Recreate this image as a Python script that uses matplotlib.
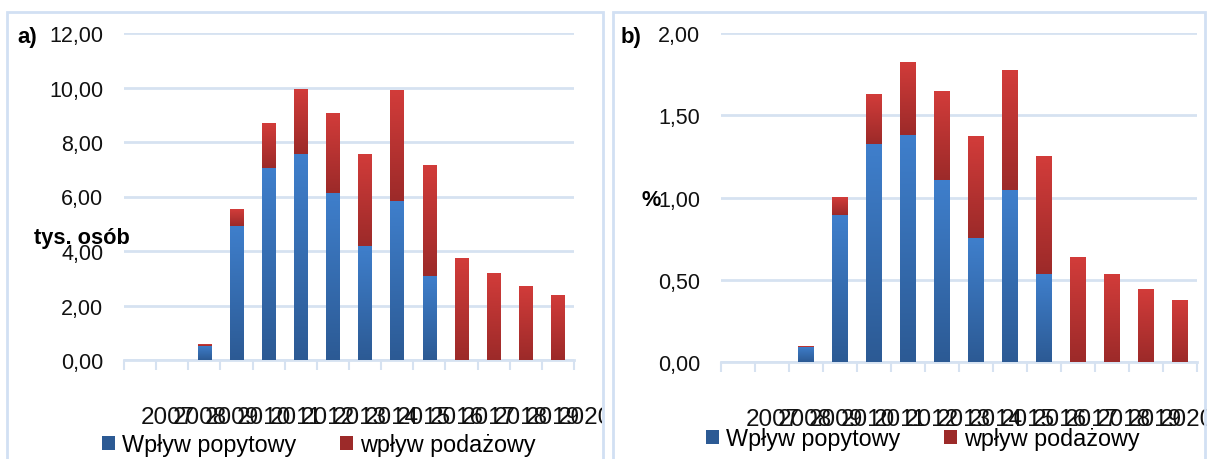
import numpy as np
import matplotlib
matplotlib.use("Agg")
import matplotlib.pyplot as plt
from matplotlib.colors import LinearSegmentedColormap
from matplotlib.patches import Rectangle, Patch
from matplotlib.transforms import Bbox, TransformedBbox
from matplotlib.ticker import FuncFormatter, MultipleLocator

# ---------------- data ----------------
years = ["2007", "2008", "2009", "2010", "2011", "2012", "2013",
         "2014", "2015", "2016", "2017", "2018", "2019", "2020"]
a_demand = [0, 0, 0.53, 4.93, 7.06, 7.57, 6.14, 4.19, 5.85, 3.09, 0, 0, 0, 0]
a_supply = [0, 0, 0.06, 0.62, 1.62, 2.39, 2.94, 3.38, 4.04, 4.08, 3.75, 3.20, 2.72, 2.39]
b_demand = [0, 0.003, 0.093, 0.893, 1.324, 1.378, 1.105, 0.753, 1.044, 0.534, 0, 0, 0, 0]
b_supply = [0, 0, 0.004, 0.109, 0.303, 0.444, 0.541, 0.619, 0.729, 0.717, 0.638, 0.534, 0.443, 0.376]
legend_labels = ["Wpływ popytowy", "wpływ podażowy"]

W, H = 1207, 460
fig = plt.figure(figsize=(W / 100, H / 100), dpi=100)

BLUE_TOP, BLUE_BOT = "#3f7fcc", "#2c5a94"
RED_TOP, RED_BOT = "#d23c3a", "#9c2a29"
GRID = "#d6e2f1"
BORDER = "#d2e0f3"
FONT = ["Liberation Sans", "DejaVu Sans"]
NARROW = ["Liberation Sans Narrow", "Liberation Sans", "DejaVu Sans"]


def px_axes(x0, x1, ytop, ybot):
    return fig.add_axes([x0 / W, (H - ybot) / H, (x1 - x0) / W, (ybot - ytop) / H])


def gradient_fill(ax, bars, top, bot):
    cmap = LinearSegmentedColormap.from_list("g", [bot, top])
    grad = np.linspace(0, 1, 256).reshape(-1, 1)
    for b in bars:
        h = b.get_height()
        if h <= 0:
            continue
        x, y = b.get_xy()
        w = b.get_width()
        im = ax.imshow(grad, extent=[x, x + w, y, y + h], origin="lower",
                       aspect="auto", cmap=cmap, zorder=3, interpolation="bilinear")
        im.set_clip_path(b)
        b.set_facecolor("none")
        b.set_edgecolor("none")


def panel(ax, demand, supply, ymax, ystep, width, lbl_first, lbl_step, clip_right):
    x = np.arange(len(years))
    bd = ax.bar(x, demand, width=width, zorder=3)
    bs = ax.bar(x, supply, width=width, bottom=demand, zorder=3)
    gradient_fill(ax, bd, BLUE_TOP, BLUE_BOT)
    gradient_fill(ax, bs, RED_TOP, RED_BOT)
    ax.set_xlim(-0.5, len(years) - 0.5)
    ax.set_ylim(0, ymax)
    ax.yaxis.set_major_locator(MultipleLocator(ystep))
    ax.yaxis.set_major_formatter(FuncFormatter(lambda v, p: f"{v:.2f}".replace(".", ",")))
    ax.grid(axis="y", color=GRID, lw=2, zorder=0)
    ax.set_axisbelow(True)
    for s in ["top", "left", "right"]:
        ax.spines[s].set_visible(False)
    ax.spines["bottom"].set_color(GRID)
    ax.spines["bottom"].set_linewidth(2)
    ax.tick_params(axis="y", length=0, pad=15, labelsize=15.5, labelcolor="#111111")
    for t in ax.get_yticklabels():
        t.set_family(FONT)
    ax.set_xticks([])
    ax.set_xticks(np.arange(len(years) + 1) - 0.5, minor=True)
    ax.tick_params(axis="x", which="minor", length=7, width=1.5, color=GRID, labelbottom=False)
    for i, yr in enumerate(years):
        t = ax.text(lbl_first + i * lbl_step, -0.174, yr, transform=ax.transAxes,
                    ha="center", va="center", fontsize=17.5, family=NARROW,
                    color="#111111", clip_on=True)
        t.set_clip_box(TransformedBbox(Bbox([[0, 0], [clip_right / W, 1]]), fig.transFigure))


# panel borders
fig.add_artist(Rectangle((7 / W, -0.05), (603 - 7) / W, (H - 13) / H + 0.05,
                         transform=fig.transFigure, fill=False, ec=BORDER, lw=2))
fig.add_artist(Rectangle((613 / W, -0.05), (1205 - 613) / W, (H - 13) / H + 0.05,
                         transform=fig.transFigure, fill=False, ec=BORDER, lw=2))

# panel a
axa = px_axes(124, 574, 34, 361)
panel(axa, a_demand, a_supply, 12, 2, 0.42, (167.5 - 124) / 450, 32.1 / 450, 602)
fig.text(17 / W, 1 - 37 / H, "a)", fontsize=16, fontweight="bold", family=FONT, va="center")
fig.text(34 / W, 1 - 239 / H, "tys. osób", fontsize=15.7, fontweight="bold", family=FONT, va="center")

# panel b
axb = px_axes(721, 1197, 34, 363)
panel(axb, b_demand, b_supply, 2, 0.5, 0.45, (772.5 - 721) / 476, 31.9 / 476, 1207)
fig.text(621 / W, 1 - 37 / H, "b)", fontsize=16, fontweight="bold", family=FONT, va="center")
fig.text(642 / W, 1 - 201 / H, "%", fontsize=15.7, fontweight="bold", family=FONT, va="center")

handles = [Patch(facecolor=BLUE_BOT, edgecolor="none"), Patch(facecolor=RED_BOT, edgecolor="none")]
for xleft, yc in [(102, 446), (706, 440)]:
    fig.legend(handles, legend_labels, loc="center left", bbox_to_anchor=(xleft / W, 1 - yc / H),
               ncol=2, frameon=False, prop={"family": FONT, "size": 16.8},
               handlelength=0.55, handleheight=0.55, handletextpad=0.3, columnspacing=1.9,
               borderaxespad=0, borderpad=0)

fig.savefig("out.png", dpi=100)
